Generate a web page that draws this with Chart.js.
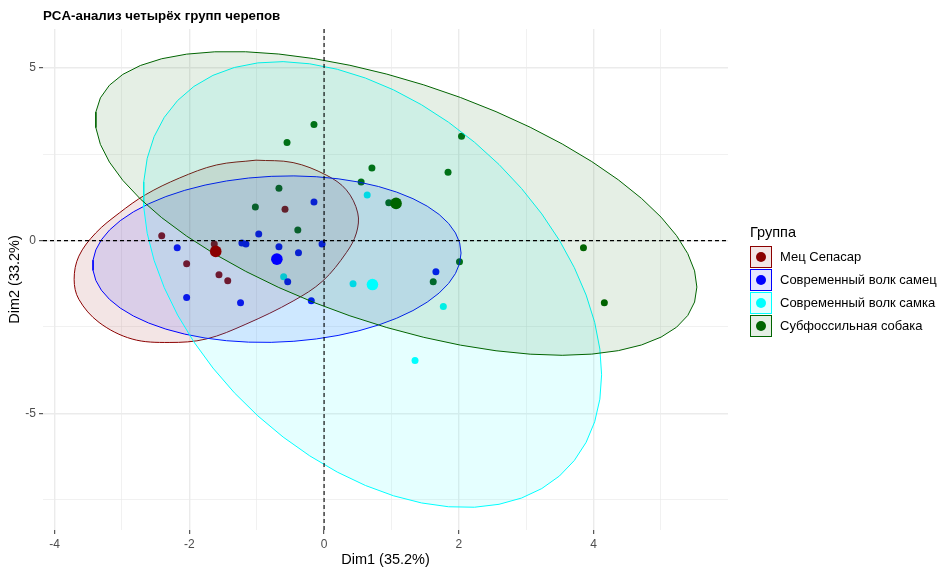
<!DOCTYPE html>
<html>
<head>
<meta charset="utf-8">
<script src="https://cdn.jsdelivr.net/npm/chart.js@4.4.0/dist/chart.umd.min.js"></script>
<style>
  html, body { margin: 0; padding: 0; background: #ffffff; }
  #wrap { position: relative; width: 950px; height: 575px; overflow: hidden; }
  #c { position: absolute; left: 0; top: 0; }
  .lg { position: absolute; font-family: "Liberation Sans", Arial, sans-serif; color: #000; white-space: nowrap; }
  .lgTitle { font-size: 14.5px; line-height: 17px; }
  .lgText { font-size: 13px; line-height: 16px; }
  .lgKey { position: absolute; box-sizing: border-box; width: 22px; height: 22px; border-style: solid; border-width: 1.5px; }
  .lgDot { position: absolute; left: 50%; top: 50%; width: 10px; height: 10px; margin-left: -5px; margin-top: -5px; border-radius: 50%; }
</style>
</head>
<body>
<div id="wrap">
  <canvas id="c" width="950" height="575"></canvas>
  <div id="legend"></div>
</div>
<script>
// ---------------- data ----------------
const chartTitle = "PCA-анализ четырёх групп черепов";
const xAxisTitle = "Dim1 (35.2%)";
const yAxisTitle = "Dim2 (33.2%)";
const legendTitle = "Группа";

const groupNames = ["Мец Сепасар", "Современный волк самец", "Современный волк самка", "Субфоссильная собака"];
const groupColors = ["#8B0000", "#0000FF", "#00FFFF", "#006400"];
const groupFills = ["rgba(139,0,0,0.1)", "rgba(0,0,255,0.1)", "rgba(0,255,255,0.1)", "rgba(0,100,0,0.1)"];

const mecX = [-2.41, -2.04, -1.56, -1.43, -1.63, -0.58];
const mecY = [0.14, -0.67, -0.99, -1.16, -0.10, 0.91];

const wolfMaleX = [-2.18, -2.04, -1.24, -1.22, -1.16, -0.97, -0.67, -0.38, -0.54, -0.15, -0.03, -0.19, 1.66];
const wolfMaleY = [-0.21, -1.65, -1.80, -0.07, -0.10, 0.19, -0.18, -0.35, -1.19, 1.12, -0.10, -1.74, -0.90];

const wolfFemaleX = [0.64, -0.60, 0.43, 1.77, 1.35];
const wolfFemaleY = [1.32, -1.05, -1.25, -1.91, -3.47];

const dogX = [-0.15, -0.55, 0.71, 1.84, 0.55, 2.04, -0.67, -1.02, -0.39, 0.96, 2.01, 1.62, 3.85, 4.16];
const dogY = [3.36, 2.84, 2.10, 1.98, 1.70, 3.02, 1.52, 0.97, 0.31, 1.10, -0.61, -1.19, -0.21, -1.80];

// outline of the (egg-shaped) Мец Сепасар region
const mecOutlineX = [-1.01, -0.46, 0.03, 0.33, 0.50, 0.48, 0.33, -0.02, -0.46, -1.16, -1.75, -2.30, -2.85, -3.34, -3.64, -3.71, -3.64, -3.39, -3.04, -2.65, -2.15, -1.60];
const mecOutlineY = [2.33, 2.26, 1.90, 1.47, 0.80, 0.22, -0.35, -1.17, -1.75, -2.42, -2.85, -2.95, -2.85, -2.37, -1.70, -1.12, -0.45, 0.22, 0.80, 1.33, 1.81, 2.19];

const xTickValues = [-4, -3, -2, -1, 0, 1, 2, 3, 4, 5];
const xTickLabels = ["-4", "", "-2", "", "0", "", "2", "", "4", ""];
const yTickValues = [-7.5, -5, -2.5, 0, 2.5, 5];
const yTickLabels = ["", "-5", "", "0", "", "5"];

const ellipseLevel = 0.95;
// ---------------------------------------

const groupX = [mecX, wolfMaleX, wolfFemaleX, dogX];
const groupY = [mecY, wolfMaleY, wolfFemaleY, dogY];

function mean(a) { return a.reduce((s, v) => s + v, 0) / a.length; }

// normal-theory confidence ellipse (as stat_ellipse type = "norm")
function ellipseOf(xs, ys, level, segments) {
  const n = xs.length, mx = mean(xs), my = mean(ys);
  let sxx = 0, syy = 0, sxy = 0;
  for (let i = 0; i < n; i++) {
    const dx = xs[i] - mx, dy = ys[i] - my;
    sxx += dx * dx; syy += dy * dy; sxy += dx * dy;
  }
  sxx /= (n - 1); syy /= (n - 1); sxy /= (n - 1);
  const d = n - 1;
  const qf = (d / 2) * (Math.pow(1 - level, -2 / d) - 1); // F(2, d) quantile
  const r = Math.sqrt(2 * qf);
  const r11 = Math.sqrt(sxx), r12 = sxy / r11, r22 = Math.sqrt(Math.max(syy - r12 * r12, 0));
  const pts = [];
  for (let k = 0; k <= segments; k++) {
    const t = 2 * Math.PI * k / segments;
    const c = Math.cos(t), s = Math.sin(t);
    pts.push({ x: mx + r * c * r11, y: my + r * (c * r12 + s * r22) });
  }
  return pts;
}

const mecOutline = mecOutlineX.map((x, i) => ({ x: x, y: mecOutlineY[i] }));
mecOutline.push({ x: mecOutlineX[0], y: mecOutlineY[0] });

const ellipses = [
  mecOutline,
  ellipseOf(wolfMaleX, wolfMaleY, ellipseLevel, 51),
  ellipseOf(wolfFemaleX, wolfFemaleY, ellipseLevel, 51),
  ellipseOf(dogX, dogY, ellipseLevel, 51)
];
const ellipseTension = [0.35, 0, 0, 0];

// limits with 5% expansion like ggplot
let allX = [0], allY = [0];
ellipses.forEach(e => e.forEach(p => { allX.push(p.x); allY.push(p.y); }));
groupX.forEach(a => allX = allX.concat(a));
groupY.forEach(a => allY = allY.concat(a));
const xLo = Math.min(...allX), xHi = Math.max(...allX);
const yLo = Math.min(...allY), yHi = Math.max(...allY);
const xMin = xLo - 0.05 * (xHi - xLo), xMax = xHi + 0.05 * (xHi - xLo);
const yMin = yLo - 0.05 * (yHi - yLo), yMax = yHi + 0.05 * (yHi - yLo);

const FONT = "'Liberation Sans', Arial, sans-serif";

const datasets = [];
// centroids (top)
groupX.forEach((xs, g) => {
  datasets.push({
    type: 'scatter', label: groupNames[g] + ' centre', order: 0,
    data: [{ x: mean(xs), y: mean(groupY[g]) }],
    pointRadius: 5.8, pointHoverRadius: 5.8, pointStyle: 'circle',
    pointBackgroundColor: groupColors[g], pointBorderWidth: 0, pointBorderColor: groupColors[g]
  });
});
// reference dashed lines
datasets.push({
  type: 'line', label: 'v0', order: 1, data: [{ x: 0, y: yMin }, { x: 0, y: yMax }],
  borderColor: '#000', borderWidth: 1.1, borderDash: [4, 3], pointRadius: 0, fill: false, tension: 0
});
datasets.push({
  type: 'line', label: 'h0', order: 1, data: [{ x: xMin, y: 0 }, { x: xMax, y: 0 }],
  borderColor: '#000', borderWidth: 1.1, borderDash: [4, 3], pointRadius: 0, fill: false, tension: 0
});
// ellipses (drawn above the individual points)
const ellipseOrder = [5, 4, 3, 2];
ellipses.forEach((e, g) => {
  datasets.push({
    type: 'line', label: groupNames[g] + ' ellipse', order: ellipseOrder[g],
    data: e, borderColor: groupColors[g], borderWidth: 1, backgroundColor: groupFills[g],
    fill: 'shape', pointRadius: 0, tension: ellipseTension[g]
  });
});
// individual points
groupX.forEach((xs, g) => {
  datasets.push({
    type: 'scatter', label: groupNames[g], order: 6,
    data: xs.map((x, i) => ({ x: x, y: groupY[g][i] })),
    pointRadius: 3.5, pointHoverRadius: 3.5, pointStyle: 'circle',
    pointBackgroundColor: groupColors[g], pointBorderWidth: 0, pointBorderColor: groupColors[g]
  });
});

const titlePlugin = {
  id: 'plotTitle',
  afterDraw(chart) {
    const c = chart.ctx;
    c.save();
    c.font = "bold 13.3px " + FONT;
    c.fillStyle = '#000';
    c.textBaseline = 'alphabetic';
    c.textAlign = 'left';
    c.fillText(chartTitle, chart.chartArea.left, 20);
    c.restore();
  }
};

function gridWidth(ctx, majors) {
  if (!ctx.tick) return 1;
  return majors(ctx.tick.value) ? 1.4 : 0.7;
}
const xMajor = v => xTickLabels[xTickValues.indexOf(v)] !== "";
const yMajor = v => yTickLabels[yTickValues.indexOf(v)] !== "";

new Chart(document.getElementById('c'), {
  type: 'scatter',
  data: { datasets: datasets },
  options: {
    responsive: false,
    animation: false,
    devicePixelRatio: 1,
    events: [],
    layout: { padding: { top: 29, right: 222, left: 0, bottom: 0 } },
    plugins: { legend: { display: false }, tooltip: { enabled: false }, title: { display: false } },
    scales: {
      x: {
        type: 'linear', min: xMin, max: xMax,
        afterFit(s) { s.height = 45; },
        afterBuildTicks(s) { s.ticks = xTickValues.map(v => ({ value: v })); },
        ticks: {
          autoSkip: false, maxRotation: 0, padding: 3, color: '#4d4d4d',
          font: { family: FONT, size: 12 },
          callback: (v) => { const i = xTickValues.indexOf(v); return i >= 0 ? xTickLabels[i] : ''; }
        },
        grid: {
          color: '#ebebeb', lineWidth: (ctx) => gridWidth(ctx, xMajor),
          drawTicks: true, tickLength: 4, tickWidth: 1,
          tickColor: (ctx) => (ctx.tick && xMajor(ctx.tick.value)) ? '#333333' : 'rgba(0,0,0,0)'
        },
        border: { display: false },
        title: { display: true, text: xAxisTitle, color: '#000', font: { family: FONT, size: 14.5 }, padding: { top: 0, bottom: 6.3 } }
      },
      y: {
        type: 'linear', min: yMin, max: yMax,
        afterFit(s) { s.width = 43; },
        afterBuildTicks(s) { s.ticks = yTickValues.map(v => ({ value: v })); },
        ticks: {
          autoSkip: false, padding: 3, color: '#4d4d4d',
          font: { family: FONT, size: 12 },
          callback: (v) => { const i = yTickValues.indexOf(v); return i >= 0 ? yTickLabels[i] : ''; }
        },
        grid: {
          color: '#ebebeb', lineWidth: (ctx) => gridWidth(ctx, yMajor),
          drawTicks: true, tickLength: 4, tickWidth: 1,
          tickColor: (ctx) => (ctx.tick && yMajor(ctx.tick.value)) ? '#333333' : 'rgba(0,0,0,0)'
        },
        border: { display: false },
        title: { display: true, text: yAxisTitle, color: '#000', font: { family: FONT, size: 14.5 }, padding: { top: 6.3, bottom: 0 } }
      }
    }
  },
  plugins: [titlePlugin]
});

// legend (HTML)
const lg = document.getElementById('legend');
const t = document.createElement('div');
t.className = 'lg lgTitle';
t.style.left = '750px'; t.style.top = '223.5px';
t.textContent = legendTitle;
lg.appendChild(t);
groupNames.forEach((name, g) => {
  const top = 245.5 + g * 23;
  const key = document.createElement('div');
  key.className = 'lgKey';
  key.style.left = '750px'; key.style.top = top + 'px';
  key.style.borderColor = groupColors[g];
  key.style.background = groupFills[g];
  const dot = document.createElement('div');
  dot.className = 'lgDot';
  dot.style.background = groupColors[g];
  key.appendChild(dot);
  lg.appendChild(key);
  const txt = document.createElement('div');
  txt.className = 'lg lgText';
  txt.style.left = '780px'; txt.style.top = (top + 3.5) + 'px';
  txt.textContent = name;
  lg.appendChild(txt);
});
</script>
</body>
</html>
